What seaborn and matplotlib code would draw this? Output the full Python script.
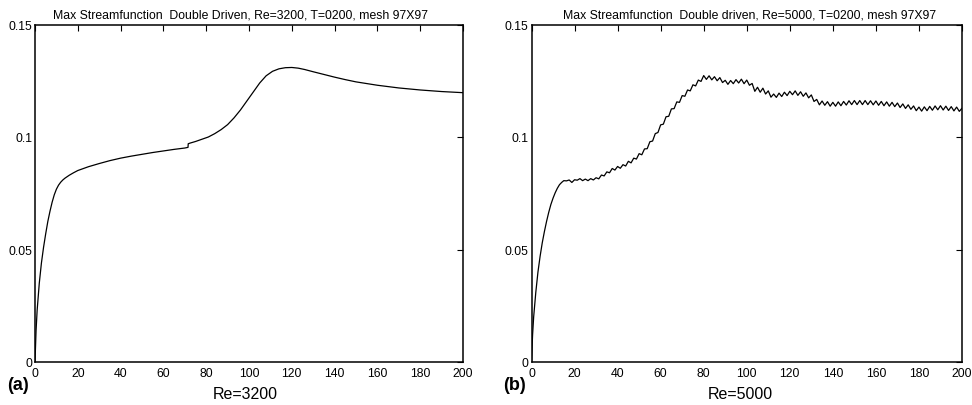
import numpy as np
import pandas as pd
import matplotlib
matplotlib.use("Agg")
import matplotlib.pyplot as plt
import seaborn as sns

# ---------------- data ----------------
titles = ["Max Streamfunction  Double Driven, Re=3200, T=0200, mesh 97X97",
          "Max Streamfunction  Double driven, Re=5000, T=0200, mesh 97X97"]
panel_tags = ["(a)", "(b)"]
xlabels = ["Re=3200", "Re=5000"]
x_ticks = [0, 20, 40, 60, 80, 100, 120, 140, 160, 180, 200]
y_ticks = [0, 0.05, 0.1, 0.15]
y_tick_labels = ["0", "0.05", "0.1", "0.15"]

# (a) Re=3200 : smooth curve with a small jump near t=71.5
t_a = [0, 0.5, 1, 2, 3, 4, 5, 6, 7, 8, 9, 10, 11, 12, 13, 14, 16, 18, 20, 25,
       30, 35, 40, 45, 50, 55, 60, 65, 70, 71.5, 71.6, 72.5, 75, 78, 81, 84,
       87, 90, 93, 96, 99, 102, 105, 108, 111, 114, 117, 120, 123, 126, 130,
       135, 140, 145, 150, 160, 170, 180, 190, 200]
psi_a = [0.0, 0.014, 0.023, 0.035, 0.044, 0.051, 0.057, 0.0625, 0.067, 0.071,
         0.0743, 0.0768, 0.0786, 0.0799, 0.0809, 0.0817, 0.0830, 0.0841, 0.0851,
         0.0868, 0.0882, 0.0895, 0.0906, 0.0915, 0.0923, 0.0931, 0.0938,
         0.0945, 0.0951, 0.0954, 0.0970, 0.0973, 0.0980, 0.0990, 0.1000,
         0.1015, 0.1033, 0.1055, 0.1085, 0.1120, 0.1160, 0.1200, 0.1240,
         0.1272, 0.1292, 0.1303, 0.1308, 0.1309, 0.1306, 0.1300, 0.1290,
         0.1278, 0.1266, 0.1255, 0.1245, 0.1230, 0.1218, 0.1209, 0.1202, 0.1197]

# (b) Re=5000 : smooth start, then oscillating signal
t_b_head = [0, 0.5, 1, 2, 3, 4, 5, 6, 7, 8, 9, 10, 11, 12, 13, 14]
psi_b_head = [0.0, 0.012, 0.020, 0.031, 0.040, 0.047, 0.053, 0.058, 0.0625,
              0.0665, 0.070, 0.0728, 0.0752, 0.0772, 0.0788, 0.0798]
t_b_tail = list(np.arange(15.0, 200.01, 1.25))
psi_b_tail = [
    0.0806, 0.0805, 0.0809, 0.0798, 0.0810, 0.0808, 0.0815, 0.0806, 0.0813, 0.0806,
    0.0815, 0.0809, 0.0819, 0.0814, 0.0831, 0.0827, 0.0845, 0.0841, 0.0860, 0.0853,
    0.0869, 0.0861, 0.0877, 0.0871, 0.0892, 0.0885, 0.0906, 0.0902, 0.0926, 0.0921,
    0.0947, 0.0948, 0.0979, 0.0982, 0.1015, 0.1020, 0.1054, 0.1057, 0.1090, 0.1092,
    0.1125, 0.1126, 0.1156, 0.1154, 0.1184, 0.1181, 0.1209, 0.1205, 0.1232, 0.1227,
    0.1253, 0.1247, 0.1273, 0.1256, 0.1272, 0.1254, 0.1268, 0.1250, 0.1264, 0.1242,
    0.1252, 0.1234, 0.1251, 0.1237, 0.1255, 0.1240, 0.1257, 0.1237, 0.1253, 0.1230,
    0.1238, 0.1203, 0.1221, 0.1199, 0.1217, 0.1191, 0.1205, 0.1177, 0.1191, 0.1176,
    0.1195, 0.1180, 0.1199, 0.1184, 0.1203, 0.1188, 0.1205, 0.1185, 0.1201, 0.1181,
    0.1196, 0.1174, 0.1187, 0.1158, 0.1167, 0.1143, 0.1160, 0.1141, 0.1157, 0.1137,
    0.1154, 0.1137, 0.1156, 0.1139, 0.1158, 0.1142, 0.1161, 0.1144, 0.1162, 0.1144,
    0.1162, 0.1144, 0.1162, 0.1144, 0.1161, 0.1143, 0.1160, 0.1141, 0.1158, 0.1139,
    0.1156, 0.1137, 0.1154, 0.1135, 0.1151, 0.1131, 0.1147, 0.1127, 0.1143, 0.1123,
    0.1138, 0.1117, 0.1133, 0.1115, 0.1134, 0.1117, 0.1136, 0.1119, 0.1138, 0.1121,
    0.1139, 0.1120, 0.1137, 0.1118, 0.1135, 0.1116, 0.1133, 0.1114, 0.1128]
t_b = t_b_head + t_b_tail
psi_b = psi_b_head + psi_b_tail

df_a = pd.DataFrame({"t": t_a, "psi": psi_a})
df_b = pd.DataFrame({"t": t_b, "psi": psi_b})

# ---------------- style ----------------
sns.set_theme(style="white")
plt.rcParams["font.family"] = ["Liberation Sans", "DejaVu Sans"]
plt.rcParams["axes.linewidth"] = 1.1
plt.rcParams["axes.edgecolor"] = "black"

fig = plt.figure(figsize=(9.72, 4.06), dpi=100)
fig.patch.set_facecolor("white")

axes_pos = [[35 / 972, 43 / 406, 428 / 972, 337.5 / 406],
            [531.5 / 972, 43 / 406, 430.5 / 972, 337.5 / 406]]
title_x = [240 / 972, 749.5 / 972]
tag_x = [18 / 972, 514 / 972]
xlabel_x = [245 / 972, 740 / 972]

for i, df in enumerate([df_a, df_b]):
    ax = fig.add_axes(axes_pos[i])
    sns.lineplot(data=df, x="t", y="psi", ax=ax, color="black", linewidth=0.9,
                 sort=False, estimator=None)
    ax.set_xlim(0, 200)
    ax.set_ylim(0, 0.15)
    ax.set_xticks(x_ticks)
    ax.set_xticklabels([str(v) for v in x_ticks])
    ax.set_yticks(y_ticks)
    ax.set_yticklabels(y_tick_labels)
    ax.set_xlabel("")
    ax.set_ylabel("")
    ax.tick_params(axis="both", which="both", direction="in", length=4,
                   width=0.8, top=True, right=True, labelsize=8.8,
                   colors="black", labelcolor="black")
    ax.tick_params(axis="x", pad=3.5)
    ax.tick_params(axis="y", pad=2)
    for s in ax.spines.values():
        s.set_visible(True)
        s.set_color("black")
    ax.grid(False)

    fig.text(title_x[i], 1 - 18 / 406, titles[i], ha="center", va="baseline",
             fontsize=8.8, color="black")
    fig.text(tag_x[i], 1 - 386 / 406, panel_tags[i], ha="center", va="center",
             fontsize=13, fontweight="bold", color="black")
    fig.text(xlabel_x[i], 1 - 395 / 406, xlabels[i], ha="center", va="center",
             fontsize=11.5, color="black")

fig.savefig("out.png", dpi=100, facecolor="white")
